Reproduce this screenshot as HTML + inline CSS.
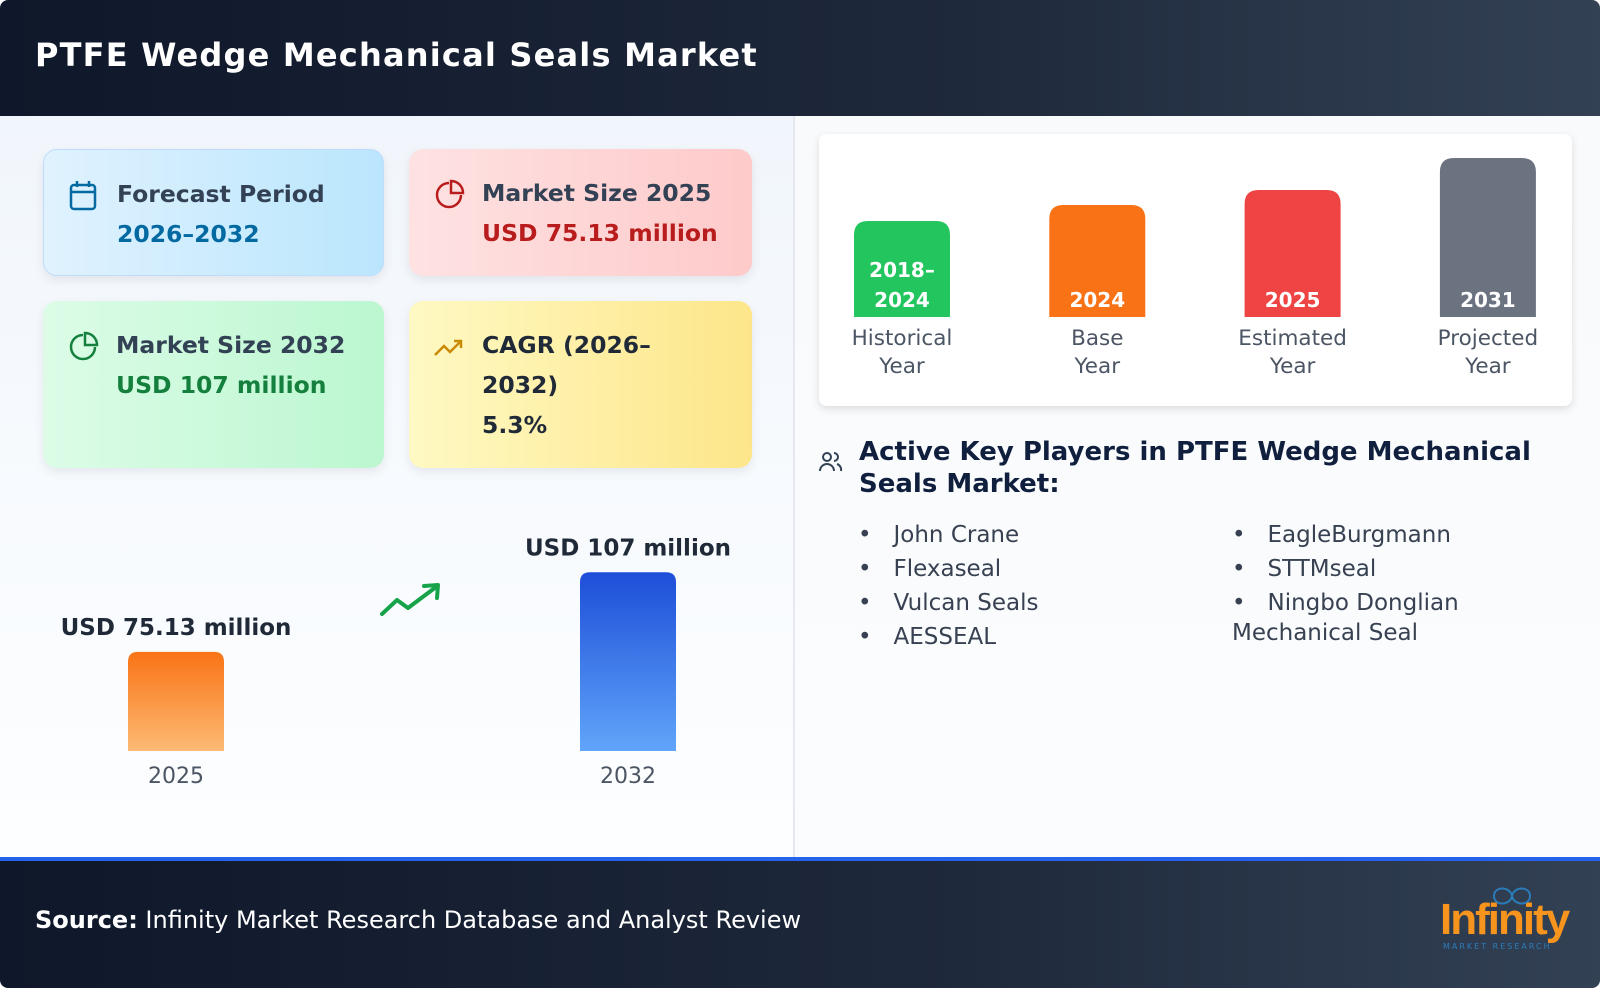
<!DOCTYPE html>
<html><head><meta charset="utf-8"><style>
*{margin:0;padding:0;box-sizing:border-box}
body{width:1600px;height:988px;overflow:hidden;font-family:"DejaVu Sans","Liberation Sans",sans-serif;background:#fff;position:relative}
.abs{position:absolute}
#header{left:0;top:0;width:1600px;height:116px;background:linear-gradient(90deg,#0f172a,#1e293b 60%,#334155);border-radius:8px 8px 0 0}
#title{left:35px;top:36px;color:#fff;font-size:32px;font-weight:bold;letter-spacing:1.2px}
#left{left:0;top:116px;width:793px;height:741px;background:linear-gradient(180deg,#f1f6fc,#fdfeff)}
#right{left:793px;top:116px;width:807px;height:741px;background:linear-gradient(180deg,#f8fafc,#fbfcfe);border-left:2px solid #e5e9ef}
.card{border-radius:14px;box-shadow:0 4px 10px rgba(0,0,0,0.08)}
.ct{font-size:23.5px;font-weight:bold;color:#334155;line-height:40px}
.cv{font-size:23.5px;font-weight:bold;line-height:40px}
.ic{position:absolute;left:24px;top:30px}
#footer{left:0;top:857px;width:1600px;height:131px;background:linear-gradient(90deg,#0f172a,#1e293b 60%,#334155);border-top:4px solid #2563eb;border-radius:0 0 8px 8px}
.li{font-size:23px;color:#374151}
</style></head><body>
<div class="abs" id="header"></div>
<div class="abs" id="title">PTFE Wedge Mechanical Seals Market</div>
<div class="abs" id="left"></div>
<div class="abs" id="right"></div>

<div class="abs card" style="left:43px;top:149px;width:341px;height:127px;background:linear-gradient(90deg,#e0f2fe,#bae6fd);border:1px solid #bfdbfe">
 <svg class="ic" width="30" height="32" viewBox="0 0 30 32"><rect x="3" y="5" width="24" height="24" rx="3" fill="none" stroke="#0369a1" stroke-width="2.5"/><line x1="3" y1="12" x2="27" y2="12" stroke="#0369a1" stroke-width="2.5"/><line x1="9" y1="1" x2="9" y2="7" stroke="#0369a1" stroke-width="2.5"/><line x1="21" y1="1" x2="21" y2="7" stroke="#0369a1" stroke-width="2.5"/></svg>
 <div class="abs" style="left:73px;top:24px"><div class="ct">Forecast Period</div><div class="cv" style="color:#0369a1">2026–2032</div></div>
</div>
<div class="abs card" style="left:409px;top:149px;width:343px;height:127px;background:linear-gradient(90deg,#fee2e2,#fecaca)">
 <svg class="ic" width="32" height="32" viewBox="0 0 32 32"><path d="M16 4 A12 12 0 1 0 28 16" fill="none" stroke="#b91c1c" stroke-width="2.5"/><path d="M18 2 A12 12 0 0 1 30 14 L18 14 Z" fill="none" stroke="#b91c1c" stroke-width="2.5"/></svg>
 <div class="abs" style="left:73px;top:24px"><div class="ct">Market Size 2025</div><div class="cv" style="color:#b91c1c">USD 75.13 million</div></div>
</div>
<div class="abs card" style="left:43px;top:301px;width:341px;height:167px;background:linear-gradient(90deg,#dcfce7,#bbf7d0)">
 <svg class="ic" width="32" height="32" viewBox="0 0 32 32"><path d="M16 4 A12 12 0 1 0 28 16" fill="none" stroke="#15803d" stroke-width="2.5"/><path d="M18 2 A12 12 0 0 1 30 14 L18 14 Z" fill="none" stroke="#15803d" stroke-width="2.5"/></svg>
 <div class="abs" style="left:73px;top:24px"><div class="ct">Market Size 2032</div><div class="cv" style="color:#15803d">USD 107 million</div></div>
</div>
<div class="abs card" style="left:409px;top:301px;width:343px;height:167px;background:linear-gradient(90deg,#fef9c3,#fde68a)">
 <svg class="ic" width="32" height="32" viewBox="0 0 32 32" style="top:32px"><polyline points="2,22 11,13 17,19 28,8" fill="none" stroke="#ca8a04" stroke-width="2.5"/><polyline points="21,8 28,8 28,15" fill="none" stroke="#ca8a04" stroke-width="2.5"/></svg>
 <div class="abs" style="left:73px;top:24px;width:260px"><div class="ct" style="color:#1f2937">CAGR (2026–<br>2032)</div><div class="cv" style="color:#1f2937">5.3%</div></div>
</div>

<svg class="abs" style="left:0;top:0" width="1600" height="988" id="charts">
 <defs>
  <linearGradient id="gOr" x1="0" y1="0" x2="0" y2="1"><stop offset="0" stop-color="#f97316"/><stop offset="1" stop-color="#fdba74"/></linearGradient>
  <linearGradient id="gBl" x1="0" y1="0" x2="0" y2="1"><stop offset="0" stop-color="#1d4ed8"/><stop offset="1" stop-color="#60a5fa"/></linearGradient>
  <filter id="sh" x="-5%" y="-5%" width="110%" height="115%"><feDropShadow dx="0" dy="3" stdDeviation="4" flood-opacity="0.12"/></filter>
 </defs>
 <rect x="819" y="134" width="753" height="272" rx="8" fill="#fff" filter="url(#sh)"/>
 <g id="tl"></g><g id="mk"></g>
 <polyline points="382,614 397,600 408,608 436,587" fill="none" stroke="#16a34a" stroke-width="4" stroke-linecap="round" stroke-linejoin="round"/>
 <polyline points="424,586 438,585 437,598" fill="none" stroke="#16a34a" stroke-width="4" stroke-linecap="round" stroke-linejoin="round"/>
</svg>

<svg class="abs" style="left:818px;top:450px" width="26" height="24" viewBox="0 0 26 24"><circle cx="9" cy="7" r="4" fill="none" stroke="#334155" stroke-width="2"/><path d="M2 21 a7 7 0 0 1 14 0" fill="none" stroke="#334155" stroke-width="2"/><path d="M16 3 a4 4 0 0 1 0 8 M19 14 a6 6 0 0 1 4 7" fill="none" stroke="#334155" stroke-width="2"/></svg>
<div class="abs" style="left:859px;top:436px;font-size:26px;font-weight:bold;color:#0f1f3d;line-height:32px;width:700px">Active Key Players in PTFE Wedge Mechanical Seals Market:</div>
<div class="abs li" style="left:858px;top:518px;line-height:34px">
<div>•&nbsp;&nbsp;&nbsp;John Crane</div>
<div>•&nbsp;&nbsp;&nbsp;Flexaseal</div>
<div>•&nbsp;&nbsp;&nbsp;Vulcan Seals</div>
<div>•&nbsp;&nbsp;&nbsp;AESSEAL</div>
</div>
<div class="abs li" style="left:1232px;top:518px;line-height:34px;width:300px">
<div>•&nbsp;&nbsp;&nbsp;EagleBurgmann</div>
<div>•&nbsp;&nbsp;&nbsp;STTMseal</div>
<div style="line-height:30px;margin-top:2px">•&nbsp;&nbsp;&nbsp;Ningbo Donglian Mechanical Seal</div>
</div>

<div class="abs" id="footer"></div>
<div class="abs" style="left:35px;top:906px;color:#fff;font-size:24px"><b>Source:</b> Infinity Market Research Database and Analyst Review</div>
<div class="abs" style="left:1440px;top:895px;color:#f7941d;font-size:44px;font-weight:bold;letter-spacing:-2px;font-family:'Liberation Sans Narrow','Liberation Sans',sans-serif">Infinity</div>
<div class="abs" style="left:1443px;top:942px;color:#2b7bb9;font-size:8px;letter-spacing:2px">MARKET RESEARCH</div>
<svg class="abs" style="left:1488px;top:882px" width="48" height="26"><path d="M6 14 C6 4,22 4,24 14 C26 24,42 24,42 14 C42 4,26 4,24 14 C22 24,6 24,6 14 Z" fill="none" stroke="#2b7bb9" stroke-width="2"/></svg>

<script>
const tlYears=["2018–\n2024","2024","2025","2031"];
const tlLabels=["Historical\nYear","Base\nYear","Estimated\nYear","Projected\nYear"];
const tlHeights=[96,112,127,159];
const tlColors=["#22c55e","#f97316","#ef4444","#6b7280"];
const mkYears=["2025","2032"];
const mkValues=[75.13,107];
const mkLabels=["USD 75.13 million","USD 107 million"];
const NS="http://www.w3.org/2000/svg";
function mk(t,a){const e=document.createElementNS(NS,t);for(const k in a)e.setAttribute(k,a[k]);return e;}
function topRound(x,y,w,h,r){return `M${x},${y+h} L${x},${y+r} Q${x},${y} ${x+r},${y} L${x+w-r},${y} Q${x+w},${y} ${x+w},${y+r} L${x+w},${y+h} Z`;}
const tl=document.getElementById('tl');
const tlX=i=>902+i*195.3, tlBase=317, tlScale=h=>h;
tlYears.forEach((y,i)=>{
 const h=tlScale(tlHeights[i]),w=96,x=tlX(i)-w/2;
 const p=mk('path',{d:topRound(x,tlBase-h,w,h,14),fill:tlColors[i]});
 
 
 tl.appendChild(p);
 const lines=y.split('\n');
 lines.forEach((ln,j)=>{
  const t=mk('text',{x:tlX(i),y:tlBase-10-(lines.length-1-j)*30,'text-anchor':'middle','font-size':'20','font-weight':'bold',fill:'#fff'});
  t.textContent=ln;
  
  
  tl.appendChild(t);
 });
 tlLabels[i].split('\n').forEach((ln,j)=>{
  const t=mk('text',{x:tlX(i),y:345+j*28,'text-anchor':'middle','font-size':'21.5',fill:'#4b5563'});
  t.textContent=ln;
  
  
  tl.appendChild(t);
 });
});
const m=document.getElementById('mk');
const mkX=i=>176+i*452, mkBase=751, mkY=v=>(v-35.5)*2.5;
mkValues.forEach((v,i)=>{
 const h=mkY(v),w=96,x=mkX(i)-w/2;
 const p=mk('path',{d:topRound(x,mkBase-h,w,h,10),fill:i?'url(#gBl)':'url(#gOr)'});
 
 
 m.appendChild(p);
 const t=mk('text',{x:mkX(i),y:mkBase-h-17,'text-anchor':'middle','font-size':'23','font-weight':'bold',fill:'#1f2937'});
 t.textContent=mkLabels[i];
 
 
 m.appendChild(t);
 const y=mk('text',{x:mkX(i),y:783,'text-anchor':'middle','font-size':'22',fill:'#4b5563'});
 y.textContent=mkYears[i];
 
 
 m.appendChild(y);
});
</script>
</body></html>
